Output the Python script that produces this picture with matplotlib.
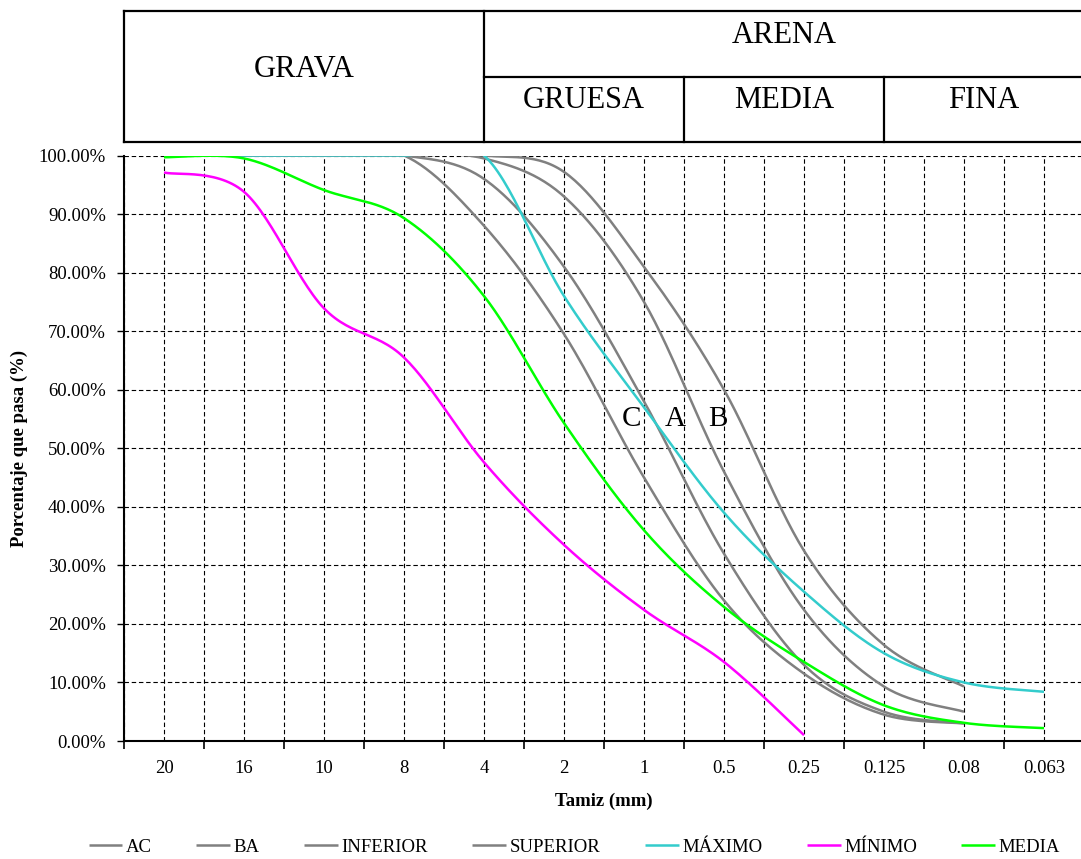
import numpy as np
import matplotlib
matplotlib.use("Agg")
import matplotlib.pyplot as plt
from matplotlib.lines import Line2D
from matplotlib.ticker import PercentFormatter, FixedLocator

plt.rcParams["font.family"] = ["Liberation Serif", "DejaVu Serif"]

# Tamices (mm) y porcentaje que pasa en cada uno
tamices = ["20", "16", "10", "8", "4", "2", "1", "0.5", "0.25", "0.125", "0.08", "0.063"]

ac = [100, 100, 100, 100, 96, 81, 58, 32, 13, 5, 3]
ba = [100, 100, 100, 100, 99.5, 93, 75, 46, 22.4, 9.3, 5]
inferior = [100, 100, 100, 100, 88, 69.5, 45, 24, 11.5, 4.5, 3]
superior = [100, 100, 100, 100, 100, 97.2, 81, 60, 32.5, 16.4, 9.3]
maximo = [100, 100, 100, 100, 100, 76, 57, 39, 25.5, 15, 10, 8.4]
minimo = [97.1, 93.8, 73.9, 65.5, 47.6, 33.5, 22.4, 13.5, 1.0]
media = [99.7, 99.5, 94.1, 89.3, 76, 54.3, 36, 22.9, 13.5, 6.1, 3.1, 2.2]

series = [
    ("AC", ac, "#808080"),
    ("BA", ba, "#808080"),
    ("INFERIOR", inferior, "#808080"),
    ("SUPERIOR", superior, "#808080"),
    ("MÁXIMO", maximo, "#33CCCC"),
    ("MÍNIMO", minimo, "#FF00FF"),
    ("MEDIA", media, "#00FF00"),
]

W, H = 1081, 859
ASPECT = 585.5 / 80.0  # pixels per 100 % vs pixels per tamiz


def smooth(xs, ys, n=30):
    """Curva suavizada tipo Excel (Bezier con tangentes Catmull-Rom)."""
    p = np.column_stack([xs, np.asarray(ys, float) * ASPECT])
    ext = np.vstack([p[0], p, p[-1]])
    out = []
    t = np.linspace(0, 1, n)[:, None]
    for k in range(len(p) - 1):
        p0, p3 = p[k], p[k + 1]
        c1 = p0 + (ext[k + 2] - ext[k]) / 6
        c2 = p3 - (ext[k + 3] - ext[k + 1]) / 6
        seg = (1 - t) ** 3 * p0 + 3 * (1 - t) ** 2 * t * c1 + 3 * (1 - t) * t ** 2 * c2 + t ** 3 * p3
        out.append(seg if k == 0 else seg[1:])
    c = np.vstack(out)
    return c[:, 0], c[:, 1] / ASPECT


fig = plt.figure(figsize=(W / 100, H / 100), dpi=100)
ax = fig.add_axes([124 / W, (H - 741) / H, 960 / W, (741 - 155.5) / H])

handles = []
for name, vals, color in series:
    x = np.arange(len(vals))
    sx, sy = smooth(x, np.asarray(vals) / 100.0)
    ln, = ax.plot(sx, sy, color=color, lw=1.8, solid_capstyle="butt", label=name)
    handles.append(ln)

ax.set_xlim(-0.5, len(tamices) - 0.5)
ax.set_ylim(0, 1)

# ejes
for s in ["top", "right"]:
    ax.spines[s].set_visible(False)
for s in ["left", "bottom"]:
    ax.spines[s].set_linewidth(1.5)

ax.yaxis.set_major_locator(FixedLocator(np.arange(0, 1.01, 0.1)))
ax.yaxis.set_major_formatter(PercentFormatter(xmax=1, decimals=2))
ax.xaxis.set_major_locator(FixedLocator(np.arange(-0.5, len(tamices), 1.0)))
ax.xaxis.set_minor_locator(FixedLocator(np.arange(len(tamices))))
ax.set_xticklabels([], minor=False)
ax.set_xticklabels(tamices, minor=True)

ax.tick_params(axis="y", which="major", direction="out", length=5, width=1, pad=8, labelsize=13.5)
ax.tick_params(axis="x", which="major", direction="out", length=6, width=1.2)
ax.tick_params(axis="x", which="minor", length=0, pad=14, labelsize=13.5)

grid_style = dict(color="black", linestyle=(0, (4, 2.5)), linewidth=0.8)
ax.grid(True, which="major", axis="both", **grid_style)
ax.grid(True, which="minor", axis="x", **grid_style)
ax.set_axisbelow(True)

# etiquetas de los ejes
fig.text(19.5 / W, 1 - 448 / H, "Porcentaje que pasa (%)", rotation=90,
         ha="center", va="center", fontsize=13.5, fontweight="bold")
fig.text(604 / W, 1 - 801 / H, "Tamiz (mm)", ha="center", va="center",
         fontsize=13.5, fontweight="bold")

# husos granulométricos
for txt, xx in [("C", 5.84), ("A", 6.39), ("B", 6.92)]:
    ax.text(xx, 0.538, txt, ha="center", va="baseline", fontsize=21)

# cuadro de clasificación superior
def fline(x0, y0, x1, y1):
    fig.add_artist(Line2D([x0 / W, x1 / W], [1 - y0 / H, 1 - y1 / H],
                          transform=fig.transFigure, color="black", lw=1.6))

top, mid, bot = 11, 76.7, 141.5
fline(124, top, 1090, top)
fline(124, bot, 1090, bot)
fline(484, mid, 1090, mid)
fline(124, top, 124, bot)
fline(484, top, 484, bot)
fline(684, mid, 684, bot)
fline(884, mid, 884, bot)
fline(1084, top, 1084, bot)

hdr = dict(family="Liberation Serif", fontsize=22, ha="center", va="baseline")
fig.text(304 / W, 1 - 76.7 / H, "GRAVA", **hdr)
fig.text(784 / W, 1 - 43.3 / H, "ARENA", **hdr)
fig.text(584 / W, 1 - 108.3 / H, "GRUESA", **hdr)
fig.text(784 / W, 1 - 108.3 / H, "MEDIA", **hdr)
fig.text(984 / W, 1 - 108.3 / H, "FINA", **hdr)

fig.legend(handles=handles, loc="center", bbox_to_anchor=(574.5 / W, 12 / H),
           bbox_transform=fig.transFigure, ncol=7, frameon=False, fontsize=13.5,
           handlelength=1.8, handletextpad=0.2, columnspacing=2.36, borderpad=0)

fig.savefig("out.png", dpi=100)
